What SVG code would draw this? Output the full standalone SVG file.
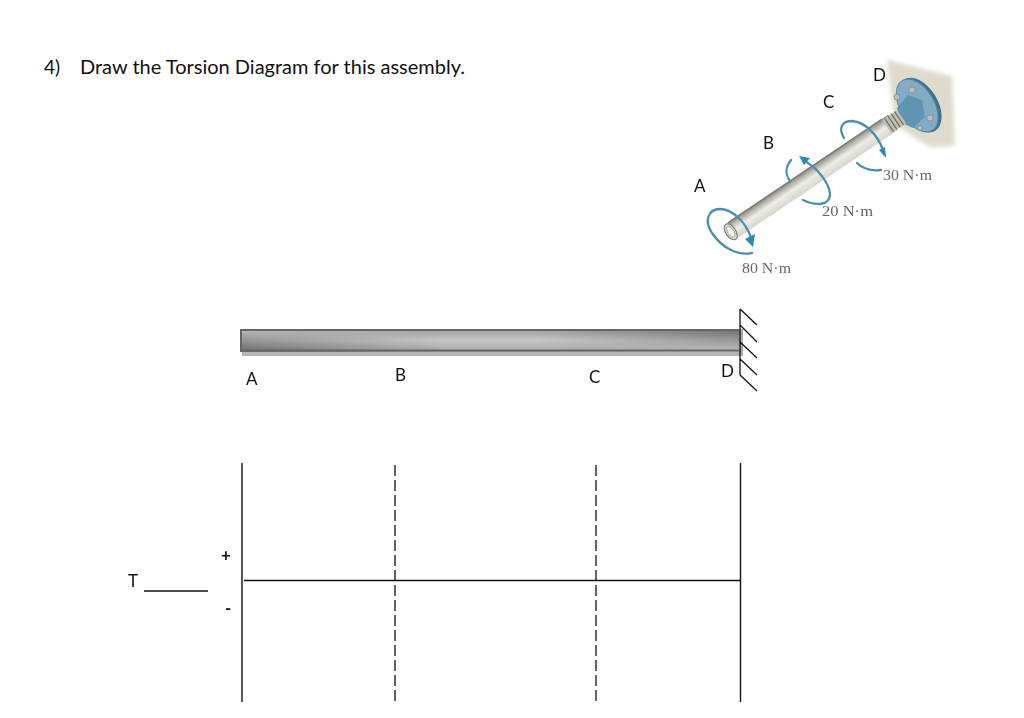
<svg xmlns="http://www.w3.org/2000/svg" width="1024" height="718" viewBox="0 0 1024 718">
<style>
.t{font-family:"Lato","Carlito","Open Sans",sans-serif;fill:#111;font-size:17px}
.s{font-family:"Liberation Serif",serif;fill:#666;font-size:15px}
.l{stroke:#111;stroke-width:1.4;fill:none}
.d{stroke:#111;stroke-width:1.3;fill:none;stroke-dasharray:11 4}
.a{stroke:#4a8fb3;stroke-width:2.3;fill:none;stroke-linecap:round}
.h{fill:#2f86b8}
.b{fill:#b9bfc0;stroke:#6b7478;stroke-width:.6}
</style>
<defs>
<linearGradient id="beamMid" x1="0" y1="0" x2="0" y2="1"><stop offset="0" stop-color="#9f9f9f"/><stop offset=".5" stop-color="#c6c6c6"/><stop offset="1" stop-color="#a4a4a4"/></linearGradient>
<linearGradient id="beamL" x1="0" y1="0" x2="0" y2="1"><stop offset="0" stop-color="#bdbdbd"/><stop offset="1" stop-color="#6a6a6a"/></linearGradient>
<linearGradient id="beamR" x1="0" y1="0" x2="0" y2="1"><stop offset="0" stop-color="#6a6a6a"/><stop offset="1" stop-color="#c2c2c2"/></linearGradient>
<linearGradient id="fadeL" x1="0" y1="0" x2="1" y2="0"><stop offset="0" stop-color="#fff"/><stop offset="1" stop-color="#000"/></linearGradient>
<linearGradient id="fadeR" x1="0" y1="0" x2="1" y2="0"><stop offset="0" stop-color="#000"/><stop offset="1" stop-color="#fff"/></linearGradient>
<mask id="mL" maskUnits="userSpaceOnUse" x="240" y="325" width="510" height="35"><rect x="240" y="325" width="200" height="35" fill="url(#fadeL)"/></mask>
<mask id="mR" maskUnits="userSpaceOnUse" x="240" y="325" width="510" height="35"><rect x="540" y="325" width="205" height="35" fill="url(#fadeR)"/></mask>
<linearGradient id="rod" x1="0" y1="0" x2="0" y2="1"><stop offset="0" stop-color="#85857f"/><stop offset=".18" stop-color="#b4b1aa"/><stop offset=".5" stop-color="#efece6"/><stop offset="1" stop-color="#d8d5ce"/></linearGradient>
<filter id="blur" x="-20%" y="-20%" width="140%" height="140%"><feGaussianBlur stdDeviation="2"/></filter>
<filter id="soft" x="-10%" y="-10%" width="120%" height="120%"><feGaussianBlur stdDeviation=".5"/></filter>
</defs>
<rect width="1024" height="718" fill="#fff"/>
<text id="title-num" class="t" x="44" y="74" style="font-size:19px">4)</text>
<text id="title" class="t" x="80" y="74" style="font-size:19.5px" textLength="385" lengthAdjust="spacingAndGlyphs">Draw the Torsion Diagram for this assembly.</text>

<g id="assembly">
<polygon points="887,60 952,76 955,146 930,147 895,125" fill="#dedbcd" filter="url(#blur)"/>
<g filter="url(#soft)">
<g transform="translate(918,105) rotate(-31)">
<ellipse cx="1.500" cy="1" rx="18" ry="30" fill="#44718d"/>
<ellipse cx="-1" cy="0" rx="17" ry="29" fill="#83acc4" stroke="#5a89a5" stroke-width="1"/>
</g>
<polygon points="897,108 908,95 922,100 925,117 913,128 900,122" fill="#5f94b3"/>
<g transform="translate(812,177) rotate(-34)">
<rect x="-98" y="-9" width="196" height="18" fill="url(#rod)"/>
<line x1="-95" y1="-9" x2="90" y2="-9" stroke="#7a7a76" stroke-width="1.4"/>
<ellipse cx="-98" cy="0" rx="5" ry="9" fill="#d8d6cf" stroke="#777" stroke-width="1.1"/>
<ellipse cx="-98" cy="0" rx="3" ry="6" fill="#f4f2ec" stroke="#999" stroke-width=".7"/>
<rect x="90" y="-8" width="18" height="16" fill="#c2c0b2"/>
<path d="M93-8v16M97-8v16M101-8v16M105-8v16" stroke="#6e6d63" stroke-width="1.200"/>
</g>
<circle cx="912" cy="90" r="3.200" class="b"/><circle cx="897" cy="97" r="3" class="b"/><circle cx="930" cy="118" r="3.200" class="b"/><circle cx="920" cy="128" r="2.600" class="b"/>
</g>
<g id="moment-a">
<path class="a" d="M752,253C738,256 722,248 712,233C704,221 708,209 720,209C732,209 746,222 751,238"/>
<polygon class="h" points="753,247 745,239 755,234"/>
</g>
<g id="moment-b">
<path class="a" d="M791,160C785,168 785,174 790,181"/>
<path class="a" d="M803,160C818,168 829,183 830,194C830,206 815,206 803,200"/>
<polygon class="h" points="799,156 810,158 804,165"/>
</g>
<g id="moment-c">
<path class="a" d="M844,138C838,128 842,121 852,121C866,122 878,136 883,150"/>
<path class="a" d="M857,163C864,170 872,171 881,170"/>
<polygon class="h" points="886,158 879,150 885,147"/>
</g>
<text class="s" x="822" y="216" textLength="51" lengthAdjust="spacingAndGlyphs">20 N·m</text>
<text class="s" x="883" y="180" textLength="49" lengthAdjust="spacingAndGlyphs">30 N·m</text>
<text class="s" x="742" y="273" textLength="49" lengthAdjust="spacingAndGlyphs">80 N·m</text>
</g>
<text id="top-a" class="t" x="694" y="192">A</text>
<text id="top-b" class="t" x="763" y="149">B</text>
<text id="top-c" class="t" x="823" y="108">C</text>
<text id="top-d" class="t" x="873" y="81">D</text>

<g id="beam-shaft">
<rect x="242" y="351" width="501" height="5" fill="#b4b4b4"/>
<rect x="240" y="329" width="501" height="23" fill="url(#beamMid)"/>
<rect x="240" y="329" width="501" height="23" fill="url(#beamL)" mask="url(#mL)"/>
<rect x="240" y="329" width="501" height="23" fill="url(#beamR)" mask="url(#mR)"/>
<path d="M240,330H741M241,329V352M240,350.500H741" fill="none" stroke="#666" stroke-width="2"/>
<rect x="739" y="329" width="4" height="27" fill="#a9a9a9"/>
</g>
<g id="wall-support" class="l" style="stroke-width:1.3">
<path d="M740,309V375M740,309L757,325M740,325L757,342M740,342L757,358M740,359L757,375M740,375L757,391"/>
</g>
<text id="lbl-a" class="t" x="246" y="385">A</text>
<text id="lbl-b" class="t" x="395" y="381">B</text>
<text id="lbl-c" class="t" x="589" y="383">C</text>
<text id="lbl-d" class="t" x="721" y="377">D</text>

<g id="connectors">
<line class="l" x1="242" y1="463" x2="242" y2="702"/>
<line class="l" x1="740.500" y1="463" x2="740.500" y2="702"/>
<line class="d" x1="395" y1="465" x2="395" y2="702"/>
<line class="d" x1="596" y1="465" x2="596" y2="702"/>
<line class="l" x1="244" y1="580.500" x2="740" y2="580.500"/>
<line class="l" x1="144" y1="591" x2="208" y2="591"/>
</g>
<text id="lbl-t" class="t" x="128" y="587">T</text>
<text id="lbl-plus" class="t" x="221" y="561" style="font-weight:700">+</text>
<text id="lbl-minus" class="t" x="225" y="614" style="font-weight:700">-</text>
</svg>
